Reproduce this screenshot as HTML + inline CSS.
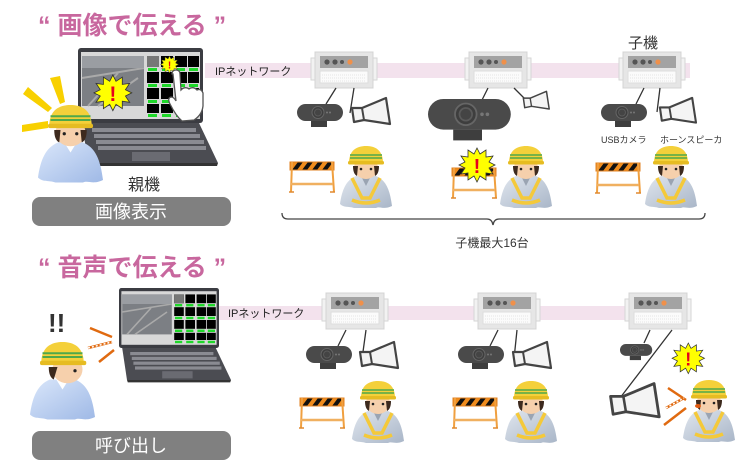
<!DOCTYPE html>
<html><head><meta charset="utf-8"><style>
html,body{margin:0;padding:0;background:#fff;}
svg{display:block;}
text{font-family:"Liberation Sans","Noto Sans CJK JP",sans-serif;}
</style></head><body>
<svg width="748" height="468" viewBox="0 0 748 468" xmlns="http://www.w3.org/2000/svg">
<defs>
<linearGradient id="bodyg" x1="0" y1="0" x2="1" y2="1"><stop offset="0" stop-color="#e0e6ee"/><stop offset="1" stop-color="#a9b6c8"/></linearGradient>
<linearGradient id="bodyb" x1="0" y1="0" x2="1" y2="1"><stop offset="0" stop-color="#d9e6fa"/><stop offset="1" stop-color="#9fb9e6"/></linearGradient>
<g id="unit">
<rect x="0" y="6" width="5" height="22" fill="#f2f2f2" stroke="#d6d6d6"/>
<rect x="61" y="6" width="5" height="22" fill="#f2f2f2" stroke="#d6d6d6"/>
<rect x="4" y="0" width="58" height="36" fill="#e6e6e6" stroke="#d4d4d4"/>
<rect x="9" y="4" width="48" height="12" fill="#a3a3a3"/>
<circle cx="16" cy="10" r="2.6" fill="#555"/><circle cx="24" cy="10" r="2.6" fill="#555"/><circle cx="31" cy="10" r="2" fill="#555"/><circle cx="39" cy="10" r="2.6" fill="#f0904a"/>
<rect x="9" y="19" width="48" height="12" fill="#fbfbfb" stroke="#ddd"/>
<path d="M11 23H55M11 26H55M11 29H55" stroke="#e4e4e4" stroke-dasharray="1 1"/>
</g>
<g id="cam">
<rect x="0" y="0" width="46" height="17" rx="8.5" fill="#4a4a4a"/>
<circle cx="21" cy="8.5" r="6" fill="#3e3e3e" stroke="#666"/>
<circle cx="21" cy="8.5" r="3.5" fill="#444" stroke="#5a5a5a"/>
<circle cx="30" cy="8.5" r="1" fill="#777"/><circle cx="33" cy="8.5" r="1" fill="#777"/>
<rect x="14" y="17" width="16" height="6" fill="#3e3e3e"/>
</g>
<g id="spk">
<path d="M2 12 L12 12 L36 2 L40 28 L14 24 L4 26 Z" fill="#f4f4f4" stroke="#444" stroke-width="2.2" stroke-linejoin="round"/>
<path d="M12 12 L14 24" stroke="#444" stroke-width="2"/>
</g>
<g id="barr">
<rect x="1" y="2" width="44" height="8" fill="#f08c1c"/>
<path d="M3 10 L9 2 H14 L8 10Z M13 10 L19 2 H24 L18 10Z M23 10 L29 2 H34 L28 10Z M33 10 L39 2 H44 L38 10Z" fill="#111"/>
<rect x="1" y="2" width="44" height="8" fill="none" stroke="#e08020"/>
<path d="M3 2 L2 32 M43 2 L45 32" stroke="#f0a040" stroke-width="2"/>
<path d="M2 24 H44" stroke="#f0b060" stroke-width="2.5"/>
<path d="M0 32 L5 32 M41 32 L46 32" stroke="#e08a30" stroke-width="1.5"/>
</g>
<g id="worker">
<path d="M0 58 C2 44 6 34 16 30 L36 30 C46 34 50 44 52 60 C44 64 40 60 36 62 L14 62 C8 60 4 62 0 58Z" fill="url(#bodyg)"/>
<path d="M12 32 L22 52 L30 52 L40 32" fill="none" stroke="#f4c93a" stroke-width="3.5"/>
<path d="M12 54 Q26 60 40 54" fill="none" stroke="#f4c93a" stroke-width="3.5"/>
<path d="M21 30 L26 40 L31 30Z" fill="#9aa4b2"/>
<ellipse cx="26" cy="22" rx="12" ry="11" fill="#f6d0ac"/>
<path d="M13 20 Q13 28 17 30 L18 20Z M39 20 Q39 28 35 30 L34 20Z" fill="#3d2a1e"/>
<circle cx="21" cy="23" r="1.3" fill="#222"/><circle cx="31" cy="23" r="1.3" fill="#222"/>
<path d="M9 17 C9 4 17 0 26 0 C35 0 43 4 43 17Z" fill="#f4d03a"/>
<rect x="8" y="15" width="36" height="3.5" rx="1.5" fill="#e6bc22"/>
<path d="M10 9 H42 M10 12 H42" stroke="#4fa84a" stroke-width="1.6"/>
</g>
<g id="burst">
<path d="M17 0 L20 6 L26 2 L26 9 L33 8 L29 14 L35 17 L29 20 L33 26 L26 25 L26 32 L20 28 L17 34 L14 28 L8 32 L8 25 L1 26 L5 20 L-1 17 L5 14 L1 8 L8 9 L8 2 L14 6Z" fill="#ffff00" stroke="#333" stroke-width="0.8"/>
<text x="17" y="25" font-size="20" font-weight="bold" fill="#e8001c" text-anchor="middle">!</text>
</g>
<g id="laptop">
<path d="M4 75 L121 75 L140 115 L10 115Z" fill="#4b4c52"/>
<path d="M10 115 L140 115 L139 118 L11 118Z" fill="#333"/>
<g fill="#8a8b92">
<rect x="14" y="80" width="104" height="4"/><rect x="16" y="86" width="106" height="4"/><rect x="18" y="92" width="108" height="4"/><rect x="20" y="98" width="108" height="4"/>
</g>
<rect x="54" y="104" width="38" height="9" fill="#6a6b72"/>
<rect x="0" y="0" width="125" height="75" rx="3" fill="#3b3c42"/>
<rect x="3" y="4" width="119" height="67" fill="#d8d8d8"/>
<rect x="4" y="8" width="62" height="50" fill="#7c7f84"/>
<path d="M4 30 L66 20 M10 58 L40 25 M20 58 L60 30" stroke="#aaa" stroke-width="2"/>
<rect x="4" y="8" width="62" height="12" fill="#9a9da2"/>
<g fill="#000">
<rect x="69" y="8" width="12" height="11"/><rect x="83" y="8" width="12" height="11"/><rect x="97" y="8" width="12" height="11"/><rect x="110" y="8" width="11" height="11"/>
<rect x="69" y="24" width="12" height="11"/><rect x="83" y="24" width="12" height="11"/><rect x="97" y="24" width="12" height="11"/><rect x="110" y="24" width="11" height="11"/>
<rect x="69" y="40" width="12" height="11"/><rect x="83" y="40" width="12" height="11"/><rect x="97" y="40" width="12" height="11"/><rect x="110" y="40" width="11" height="11"/>
<rect x="69" y="56" width="12" height="9"/><rect x="83" y="56" width="12" height="9"/><rect x="97" y="56" width="12" height="9"/><rect x="110" y="56" width="11" height="9"/>
</g>
<g fill="#1fd82a">
<rect x="70" y="20" width="9" height="3"/><rect x="84" y="20" width="9" height="3"/><rect x="98" y="20" width="9" height="3"/><rect x="111" y="20" width="9" height="3"/>
<rect x="70" y="36" width="9" height="3"/><rect x="84" y="36" width="9" height="3"/><rect x="98" y="36" width="9" height="3"/><rect x="111" y="36" width="9" height="3"/>
<rect x="70" y="52" width="9" height="3"/><rect x="84" y="52" width="9" height="3"/><rect x="98" y="52" width="9" height="3"/><rect x="111" y="52" width="9" height="3"/>
<rect x="70" y="66" width="9" height="3"/><rect x="84" y="66" width="9" height="3"/><rect x="98" y="66" width="9" height="3"/><rect x="111" y="66" width="9" height="3"/>
</g>
<rect x="69" y="8" width="12" height="11" fill="#777"/>
</g>
</defs>

<!-- TOP -->
<text x="38" y="34" font-size="25" font-weight="bold" fill="#c8679e">“ 画像で伝える ”</text>
<rect x="205" y="63" width="485" height="15" fill="#f3e2ed"/>
<text x="215" y="75" font-size="11" fill="#222">IPネットワーク</text>

<use href="#laptop" x="78" y="48"/>
<use href="#burst" transform="translate(95,75) scale(1.05)"/>
<use href="#burst" transform="translate(161,56) scale(0.5)"/>
<!-- hand -->
<path d="M172 74 Q172 70 176 70 Q180 70 180 74 L181 90 Q185 86 189 89 Q193 86 197 90 Q201 88 203 93 L203 106 Q202 115 194 120 L182 121 Q176 116 170 104 Q167 98 171 97 Q174 97 176 101 L173 74Z" fill="#fff" stroke="#555" stroke-width="1.3"/>
<!-- rays -->
<g fill="#f8d000">
<path d="M50 78 L60 76 L65 102 L60 104Z"/>
<path d="M23 94 L28 87 L52 108 L48 112Z"/>
<path d="M22 125 L48 121 L48 128 L22 132Z"/>
</g>
<g transform="translate(38,105) scale(1.25)"><path d="M0 58 C2 44 6 34 16 30 L36 30 C46 34 50 44 52 60 C44 64 40 60 36 62 L14 62 C8 60 4 62 0 58Z" fill="url(#bodyb)"/><path d="M21 30 L26 38 L31 30Z" fill="#fff"/><ellipse cx="26" cy="22" rx="12" ry="11" fill="#f6d0ac"/><path d="M13 20 Q13 28 17 30 L18 20Z M39 20 Q39 28 35 30 L34 20Z" fill="#3d2a1e"/><circle cx="21" cy="23" r="1.3" fill="#222"/><circle cx="31" cy="23" r="1.3" fill="#222"/><path d="M9 17 C9 4 17 0 26 0 C35 0 43 4 43 17Z" fill="#f4d03a"/><rect x="8" y="15" width="36" height="3.5" rx="1.5" fill="#e6bc22"/><path d="M10 9 H42 M10 12 H42" stroke="#4fa84a" stroke-width="1.6"/></g>
<text x="128" y="190" font-size="16" fill="#333">親機</text>
<rect x="32" y="197" width="199" height="29" rx="8" fill="#808080"/>
<text x="131" y="218" font-size="18" fill="#fff" text-anchor="middle">画像表示</text>

<use href="#unit" x="311" y="52"/>
<use href="#unit" x="465" y="52"/>
<use href="#unit" x="619" y="52"/>
<text x="628" y="48" font-size="15" fill="#333">子機</text>
<path d="M336 88 L326 104 M354 88 L350 113" stroke="#333" stroke-width="1.3"/>
<path d="M488 88 L482 100 M514 88 L526 100" stroke="#333" stroke-width="1.3"/>
<path d="M644 88 L636 104 M660 88 L657 112" stroke="#333" stroke-width="1.3"/>
<use href="#cam" x="297" y="104"/>
<use href="#spk" x="350" y="96"/>
<use href="#cam" transform="translate(428,99) scale(1.8)"/>
<use href="#spk" transform="translate(522,90) scale(0.68)"/>
<use href="#cam" x="601" y="104"/>
<use href="#spk" transform="translate(658,96) scale(0.95)"/>
<text x="601" y="143" font-size="9" fill="#333">USBカメラ</text>
<text x="660" y="143" font-size="9" fill="#333">ホーンスピーカ</text>

<use href="#barr" x="289" y="160"/>
<use href="#barr" x="451" y="166"/>
<use href="#barr" x="595" y="161"/>
<use href="#burst" x="460" y="148"/>
<use href="#worker" x="340" y="146"/>
<use href="#worker" x="500" y="146"/>
<use href="#worker" x="645" y="146"/>
<path d="M282 213 Q282 219 288 219 L487 219 Q492 219 493 225 Q494 219 499 219 L699 219 Q705 219 705 213" fill="none" stroke="#444" stroke-width="1.3"/>
<text x="492" y="247" font-size="12" fill="#333" text-anchor="middle">子機最大16台</text>

<!-- BOTTOM -->
<text x="38" y="276" font-size="25" font-weight="bold" fill="#c8679e">“ 音声で伝える ”</text>
<rect x="218" y="306" width="412" height="14" fill="#f3e2ed"/>
<text x="228" y="317" font-size="11" fill="#222">IPネットワーク</text>
<use href="#laptop" transform="translate(119,288) scale(0.8)"/>
<text x="48" y="332" font-size="26" font-weight="bold" fill="#333">!!</text>
<path d="M90 328 L112 337 M88 348 L112 342 M99 362 L114 350" stroke="#e06a10" stroke-width="2.5"/>
<path d="M88 348 L112 342" stroke="#fff" stroke-width="1.5" stroke-dasharray="2 2"/>
<g transform="translate(30,342) scale(1.25)"><path d="M0 58 C2 44 6 34 16 30 L36 30 C46 34 50 44 52 60 C44 64 40 60 36 62 L14 62 C8 60 4 62 0 58Z" fill="url(#bodyb)"/><path d="M21 30 L26 38 L31 30Z" fill="#fff"/><ellipse cx="30" cy="22" rx="12" ry="11" fill="#f6d0ac"/><path d="M15 20 Q15 28 19 30 L22 20Z" fill="#3d2a1e"/><circle cx="36" cy="23" r="1.3" fill="#222"/><path d="M9 17 C9 4 17 0 26 0 C35 0 43 4 43 17Z" fill="#f4d03a"/><rect x="8" y="15" width="37" height="3.5" rx="1.5" fill="#e6bc22"/><path d="M10 9 H42 M10 12 H42" stroke="#4fa84a" stroke-width="1.6"/></g>
<rect x="32" y="431" width="199" height="29" rx="8" fill="#808080"/>
<text x="131" y="452" font-size="18" fill="#fff" text-anchor="middle">呼び出し</text>

<use href="#unit" x="322" y="293"/>
<use href="#unit" x="474" y="293"/>
<use href="#unit" x="625" y="293"/>
<path d="M346 330 L338 346 M366 330 L362 359" stroke="#333" stroke-width="1.3"/>
<path d="M498 330 L490 346 M517 330 L514 359" stroke="#333" stroke-width="1.3"/>
<path d="M650 330 L644 343 M672 330 L620 398" stroke="#333" stroke-width="1.3"/>
<use href="#cam" x="306" y="346"/>
<use href="#spk" x="358" y="340"/>
<use href="#cam" x="458" y="346"/>
<use href="#spk" x="511" y="340"/>
<use href="#cam" transform="translate(620,344) scale(0.7)"/>
<use href="#spk" transform="translate(608,381) scale(1.28)"/>
<use href="#burst" transform="translate(673,343) scale(0.9)"/>
<path d="M668 388 L686 400 M666 408 L684 398 M664 425 L686 408" stroke="#e06a10" stroke-width="2.5"/>
<path d="M666 408 L684 398" stroke="#fff" stroke-width="1.5" stroke-dasharray="2 2"/>
<use href="#barr" x="299" y="396"/>
<use href="#barr" x="452" y="396"/>
<use href="#worker" x="352" y="381"/>
<use href="#worker" x="505" y="381"/>
<use href="#worker" x="683" y="380"/>
<ellipse cx="698" cy="406" rx="3" ry="2" fill="#e05a10"/>
</svg>
</body></html>
